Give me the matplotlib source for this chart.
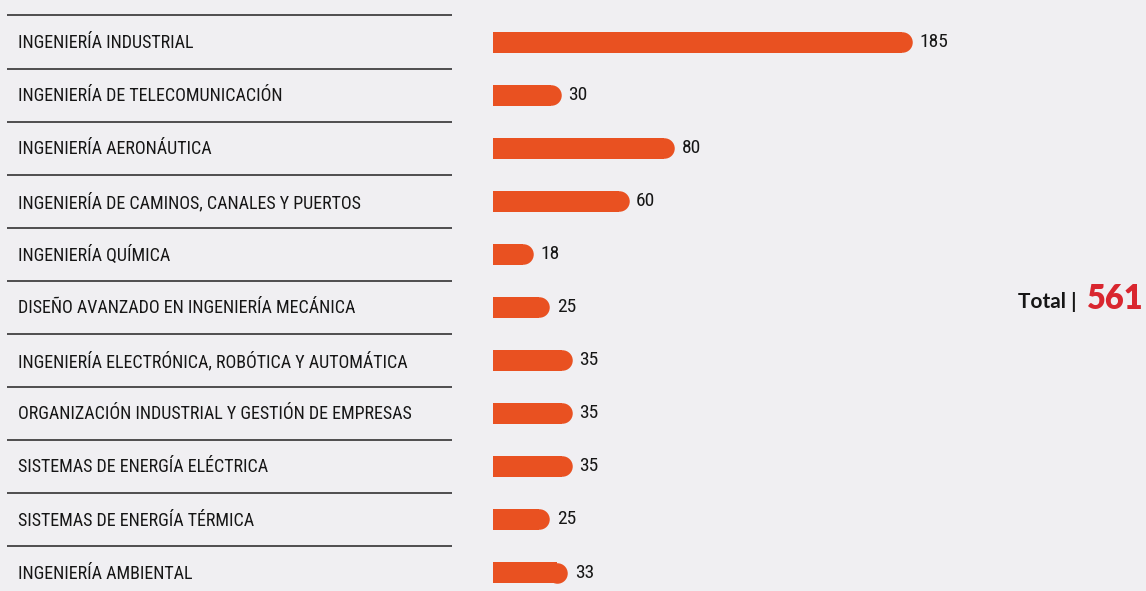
import matplotlib.pyplot as plt
from matplotlib import transforms
from matplotlib import font_manager

# data
programs = [
    "INGENIERÍA INDUSTRIAL",
    "INGENIERÍA DE TELECOMUNICACIÓN",
    "INGENIERÍA AERONÁUTICA",
    "INGENIERÍA DE CAMINOS, CANALES Y PUERTOS",
    "INGENIERÍA QUÍMICA",
    "DISEÑO AVANZADO EN INGENIERÍA MECÁNICA",
    "INGENIERÍA ELECTRÓNICA, ROBÓTICA Y AUTOMÁTICA",
    "ORGANIZACIÓN INDUSTRIAL Y GESTIÓN DE EMPRESAS",
    "SISTEMAS DE ENERGÍA ELÉCTRICA",
    "SISTEMAS DE ENERGÍA TÉRMICA",
    "INGENIERÍA AMBIENTAL",
]
places = [185, 30, 80, 60, 18, 25, 35, 35, 35, 25, 33]
total = 561

# style
bg = "#f0eff2"
bar_color = "#e95121"
total_color = "#d9262f"
ink = "#161616"


# look for a condensed face, the original uses a narrow sans
def find_condensed():
    found = []
    for f in font_manager.fontManager.ttflist:
        if f.style != "normal" or f.weight not in (400, "normal", "regular"):
            continue
        tag = (f.name + " " + f.fname).lower()
        if f.stretch in ("condensed", "semi-condensed", "extra-condensed") \
                or "narrow" in tag or "condensed" in tag:
            found.append(f)
    order = ["liberation sans narrow", "roboto condensed", "open sans condensed",
             "noto sans", "dejavu sans"]
    found.sort(key=lambda f: next((k for k, o in enumerate(order) if o in f.name.lower()), 99))
    return found[0] if found else None


cf = find_condensed()
if cf is not None:
    label_font = font_manager.FontProperties(fname=cf.fname)
    label_size = 13
else:
    label_font = font_manager.FontProperties(family="DejaVu Sans")
    label_size = 12

W, H, dpi = 1146, 591, 100
fig = plt.figure(figsize=(W / dpi, H / dpi), dpi=dpi, facecolor=bg)

# bar axes: x=0 at pixel 493, 2.27 px per unit
x0_px = 493
px_per_unit = 2.27
row_px = 53.05
first_row_px = 42
ax = fig.add_axes([x0_px / W, 0, 1 - x0_px / W, 1])
ax.set_facecolor(bg)
ax.set_xlim(0, (W - x0_px) / px_per_unit)
ax.set_ylim((H - first_row_px) / row_px, -first_row_px / row_px)
ax.axis("off")

bar_h_px = 21
bar_h = bar_h_px / row_px
r_units = (bar_h_px / 2) / px_per_unit
rows = list(range(len(programs)))

# square left end from barh, round right end from a circle marker
ax.barh(rows, [v - r_units for v in places], height=bar_h, color=bar_color, linewidth=0)
ax.scatter([v - r_units for v in places], rows, s=((bar_h_px - 0.5) * 72 / dpi) ** 2,
           color=bar_color, linewidths=0, marker="o", zorder=2)

for i, v in enumerate(places):
    ax.annotate(str(v), (v, i), xytext=(5, 0), textcoords="offset points",
                va="center", ha="left", fontproperties=label_font,
                fontsize=label_size + 1, color=ink)

# separators and labels on the left
tr = transforms.blended_transform_factory(fig.transFigure, ax.transData)
for i in range(len(programs)):
    ax.plot([7 / W, 452 / W], [i - 0.5, i - 0.5], transform=tr, color="#222222",
            lw=1.1, clip_on=False, solid_capstyle="butt")
for i, name in enumerate(programs):
    ax.text(18 / W, i + 0.02, name, transform=tr, va="center", ha="left",
            fontproperties=label_font, fontsize=label_size, color=ink)

# total
fig.text(1077 / W, 1 - 302 / H, "Total |", ha="right", va="center", fontsize=15,
         fontweight="bold", color=ink, family=["Lato", "DejaVu Sans"])
fig.text(1144 / W, 1 - 299 / H, str(total), ha="right", va="center", fontsize=23.5,
         fontweight="heavy", color=total_color, family=["Lato", "DejaVu Sans"])

fig.savefig("out.png", dpi=dpi, facecolor=bg)
